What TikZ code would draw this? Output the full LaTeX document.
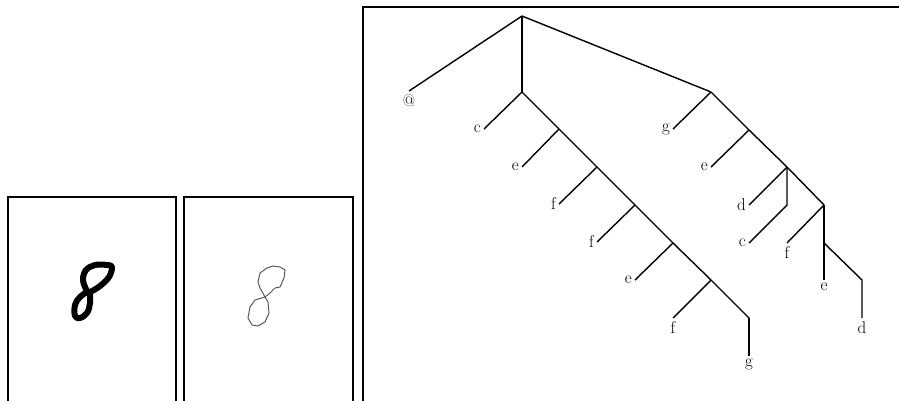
\documentclass[tikz,border=0pt]{standalone}
\usepackage{tikz}
\usetikzlibrary{positioning}
\begin{document}
\begin{tikzpicture}[x=1pt, y=-1pt]
    \tikzstyle{frame} = [line width=2.3pt]
    \tikzstyle{branch} = [line width=1.4pt]
    \tikzstyle{leaf} = [inner sep=3pt, font=\fontsize{17}{19}\selectfont]
    \tikzstyle{leafw} = [leaf, anchor=east]
    \tikzstyle{leafs} = [leaf, anchor=north]
    \useasboundingbox (0,0) rectangle (899,400);

    \draw [frame] (8,402) -- (8,197) -- (176,197) -- (176,402);
    \draw [frame] (184,402) -- (184,197) -- (353,197) -- (353,402);
    \draw [frame] (363,402) -- (363,7) -- (902,7);

    \draw [line width=6pt, line join=round] plot [smooth cycle, tension=0.6] coordinates {(87,291) (83,280) (86,270) (95,265) (107,265) (112,267) (109,277) (100,286) (90,292)};
    \draw [line width=6pt, line join=round] plot [smooth cycle, tension=0.6] coordinates {(89,292) (90,303) (87,313) (80,318) (75,316) (75,305) (80,297)};
    \draw [black!65, line width=1pt] (265,297) -- (260,288) -- (258,282) -- (260,273) -- (267,268) -- (273,266) -- (280,267) -- (285,270) -- (284,278) -- (280,287) -- (275,288) -- (270,293) -- cycle;
    \draw [black!65, line width=1pt] (265,297) -- (268,302) -- (269,313) -- (265,322) -- (258,326) -- (252,325) -- (248,318) -- (250,307) -- (255,300) -- cycle;

    \coordinate (root) at (522,16);
    \coordinate (a) at (522,92);
    \coordinate (b) at (559,129);
    \coordinate (c) at (597,167);
    \coordinate (d) at (635,205);
    \coordinate (e) at (673,243);
    \coordinate (f) at (711,280);
    \coordinate (g) at (749,318);
    \coordinate (h) at (711,92);
    \coordinate (i) at (749,130);
    \coordinate (j) at (787,167);
    \coordinate (k) at (787,205);
    \coordinate (l) at (824,205);
    \coordinate (m) at (824,243);
    \coordinate (n) at (862,280);

    \node [leafs] (at) at (409,91) {@};
    \node [leafw] (lc1) at (484,129) {c};
    \node [leafw] (le1) at (522,167) {e};
    \node [leafw] (lf1) at (559,204) {f};
    \node [leafw] (lf2) at (597,242) {f};
    \node [leafw] (le2) at (635,280) {e};
    \node [leafs] (lf3) at (673,318) {f};
    \node [leafs] (lg1) at (749,356) {g};
    \node [leafw] (lg2) at (673,129) {g};
    \node [leafw] (le3) at (711,167) {e};
    \node [leafw] (ld1) at (749,205) {d};
    \node [leafw] (lc2) at (749,243) {c};
    \node [leafs] (lf4) at (787,243) {f};
    \node [leafs] (le4) at (824,280) {e};
    \node [leafs] (ld2) at (862,318) {d};

    \draw [branch] (root) -- (at.north);
    \draw [branch] (root) -- (a);
    \draw [branch] (root) -- (h);
    \draw [branch] (a) -- (lc1.east);
    \draw [branch] (a) -- (b) -- (c) -- (d) -- (e) -- (f) -- (g);
    \draw [branch] (b) -- (le1.east);
    \draw [branch] (c) -- (lf1.east);
    \draw [branch] (d) -- (lf2.east);
    \draw [branch] (e) -- (le2.east);
    \draw [branch] (f) -- (lf3.north);
    \draw [branch] (g) -- (lg1.north);
    \draw [branch] (h) -- (lg2.east);
    \draw [branch] (h) -- (i) -- (j) -- (l);
    \draw [branch] (i) -- (le3.east);
    \draw [branch] (j) -- (ld1.east);
    \draw [branch] (j) -- (k) -- (lc2.east);
    \draw [branch] (l) -- (lf4.north);
    \draw [branch] (l) -- (m) -- (le4.north);
    \draw [branch] (m) -- (n) -- (ld2.north);
\end{tikzpicture}
\end{document}
